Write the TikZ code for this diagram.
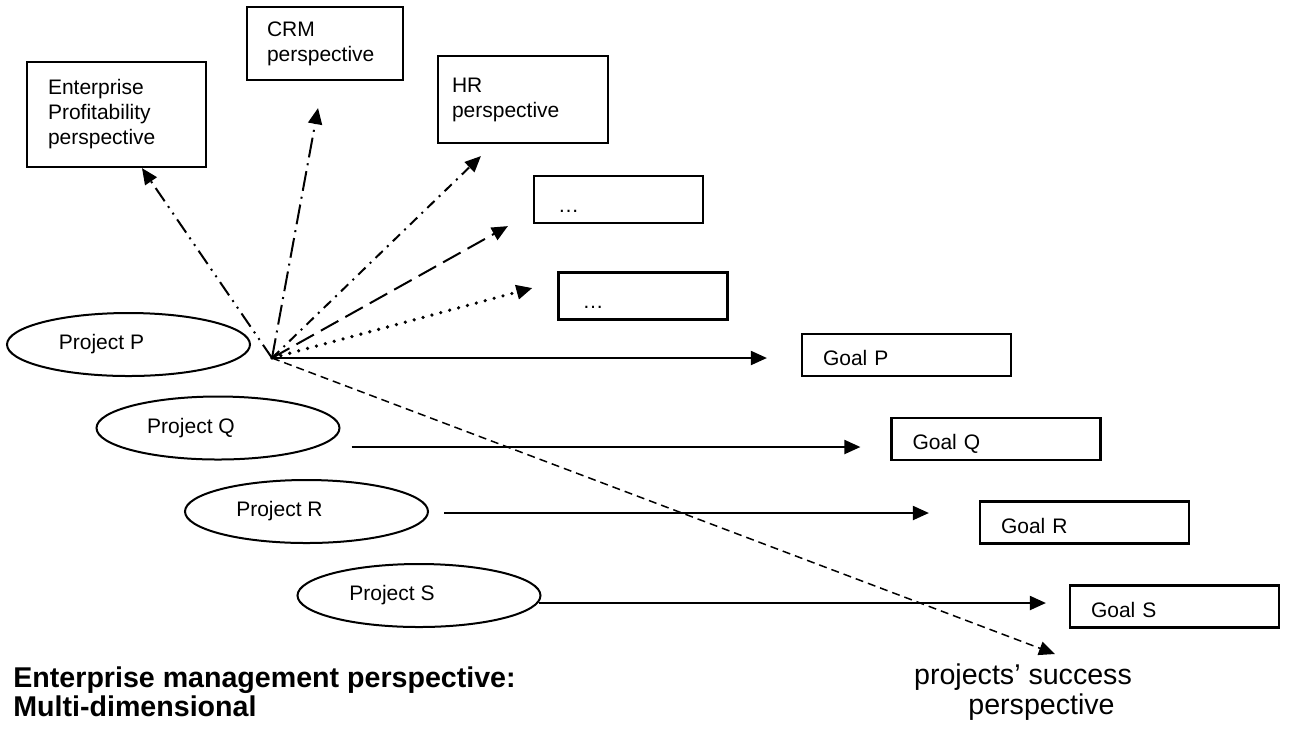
\documentclass[tikz,border=0pt]{standalone}
\usepackage{fontspec}
\setmainfont{Liberation Sans}
\usetikzlibrary{shapes.geometric,arrows.meta}

\newcommand{\boxfont}{\fontsize{10.5pt}{12.5pt}\selectfont}
\newcommand{\bottomfont}{\fontsize{14.3pt}{14.5pt}\selectfont}

\tikzset{
  persp/.style={draw, rectangle, line width=1.1pt, align=left, inner ysep=0pt, font=\boxfont},
  goalbox/.style={persp, minimum width=104.5pt, minimum height=21pt, text width=83.5pt,
    inner xsep=10.5pt, text height=10.5pt, text depth=0pt},
  dotbox/.style={persp, minimum width=84.5pt, minimum height=23.5pt, text width=60.5pt,
    inner xsep=12pt, text height=12.5pt, text depth=0pt},
  projell/.style={draw, ellipse, line width=1pt, minimum width=121.5pt, minimum height=31.5pt,
    inner sep=0pt, font=\boxfont},
  arr/.style={-{Triangle[length=8pt,width=7pt]}, line width=1pt},
  dashdotdot/.style={dash pattern=on 8pt off 3pt on 1pt off 3pt on 1pt off 3pt},
  longdashdot/.style={dash pattern=on 10pt off 3pt on 1pt off 3pt},
  shortdashdot/.style={dash pattern=on 5pt off 3pt on 1pt off 3pt},
  longdash/.style={dash pattern=on 10pt off 4pt},
  dotline/.style={line cap=round, line width=1.8pt, dash pattern=on 0pt off 4.6pt},
  shortdash/.style={dash pattern=on 4pt off 2.5pt, line width=0.75pt}
}

\begin{document}
\begin{tikzpicture}[x=0.5pt, y=-0.5pt]
  \useasboundingbox (0,0) rectangle (1290,730);

  % perspectives
  \node[persp, minimum width=89.5pt, minimum height=52.5pt, text width=68.5pt, inner xsep=10.5pt]
    (ent) at (116.5,114.5) {Enterprise\\Profitability\\perspective};
  \node[persp, minimum width=78pt, minimum height=36.5pt, text width=58pt, inner xsep=10pt]
    (crm) at (325,43.5) {CRM\\perspective};
  \node[persp, minimum width=85pt, minimum height=43.5pt, text width=71pt, inner xsep=7pt]
    (hr) at (523,99.5) {HR\\perspective};
  \node[dotbox] (dotsA) at (618.5,199.5) {…};
  \node[dotbox] (dotsB) at (643,296) {…};

  % projects and goals
  \node[projell] (projP) at (128.5,344.5) {Project P\hspace*{27pt}};
  \node[projell] (projQ) at (218,428) {Project Q\hspace*{27pt}};
  \node[projell] (projR) at (306.5,511.5) {Project R\hspace*{27pt}};
  \node[projell] (projS) at (419,595.5) {Project S\hspace*{27pt}};

  \node[goalbox] (goalP) at (906.5,355) {Goal P};
  \node[goalbox] (goalQ) at (996,439) {Goal Q};
  \node[goalbox] (goalR) at (1084.5,522.5) {Goal R};
  \node[goalbox] (goalS) at (1174.5,606.5) {Goal S};

  \node[font=\bottomfont\bfseries, align=left, inner sep=0pt, anchor=north west]
    (mgmt) at (13,666) {Enterprise management perspective:\\Multi-dimensional};
  \node[font=\fontsize{14.3pt}{15pt}\selectfont, align=center, inner sep=0pt, anchor=north]
    (succ) at (1023,663) {projects’ success\\\hspace*{18.5pt}perspective};

  \coordinate (hub) at (272,358);
  \coordinate (qstart) at ([xshift=5.5pt,yshift=-9.5pt]projQ.east);
  \coordinate (rstart) at ([xshift=7.5pt,yshift=-0.75pt]projR.east);
  \coordinate (sstart) at ([xshift=-1.5pt,yshift=-3.75pt]projS.east);

  % fan of arrows
  \draw[arr, dashdotdot] (hub) -- ([xshift=12.75pt]ent.south);
  \draw[arr, longdashdot] (hub) -- ([xshift=-3.5pt,yshift=-13.5pt]crm.south);
  \draw[arr, shortdashdot] (hub) -- ([xshift=22pt,yshift=-6pt]hr.south west);
  \draw[arr, longdash] (hub) -- ([xshift=-12.5pt,yshift=-1pt]dotsA.south west);
  \draw[arr, dotline] (hub) -- ([xshift=-12.5pt,yshift=4pt]dotsB.west);
  \draw[arr, shortdash] (hub) -- ([xshift=16pt,yshift=4.5pt]succ.north);

  \draw[arr, shorten >=17pt] (hub) -- (hub -| goalP.west);
  \draw[arr, shorten >=15pt] (qstart) -- (qstart -| goalQ.west);
  \draw[arr, shorten >=25pt] (rstart) -- (rstart -| goalR.west);
  \draw[arr, shorten >=11.5pt] (sstart) -- (sstart -| goalS.west);
\end{tikzpicture}
\end{document}
